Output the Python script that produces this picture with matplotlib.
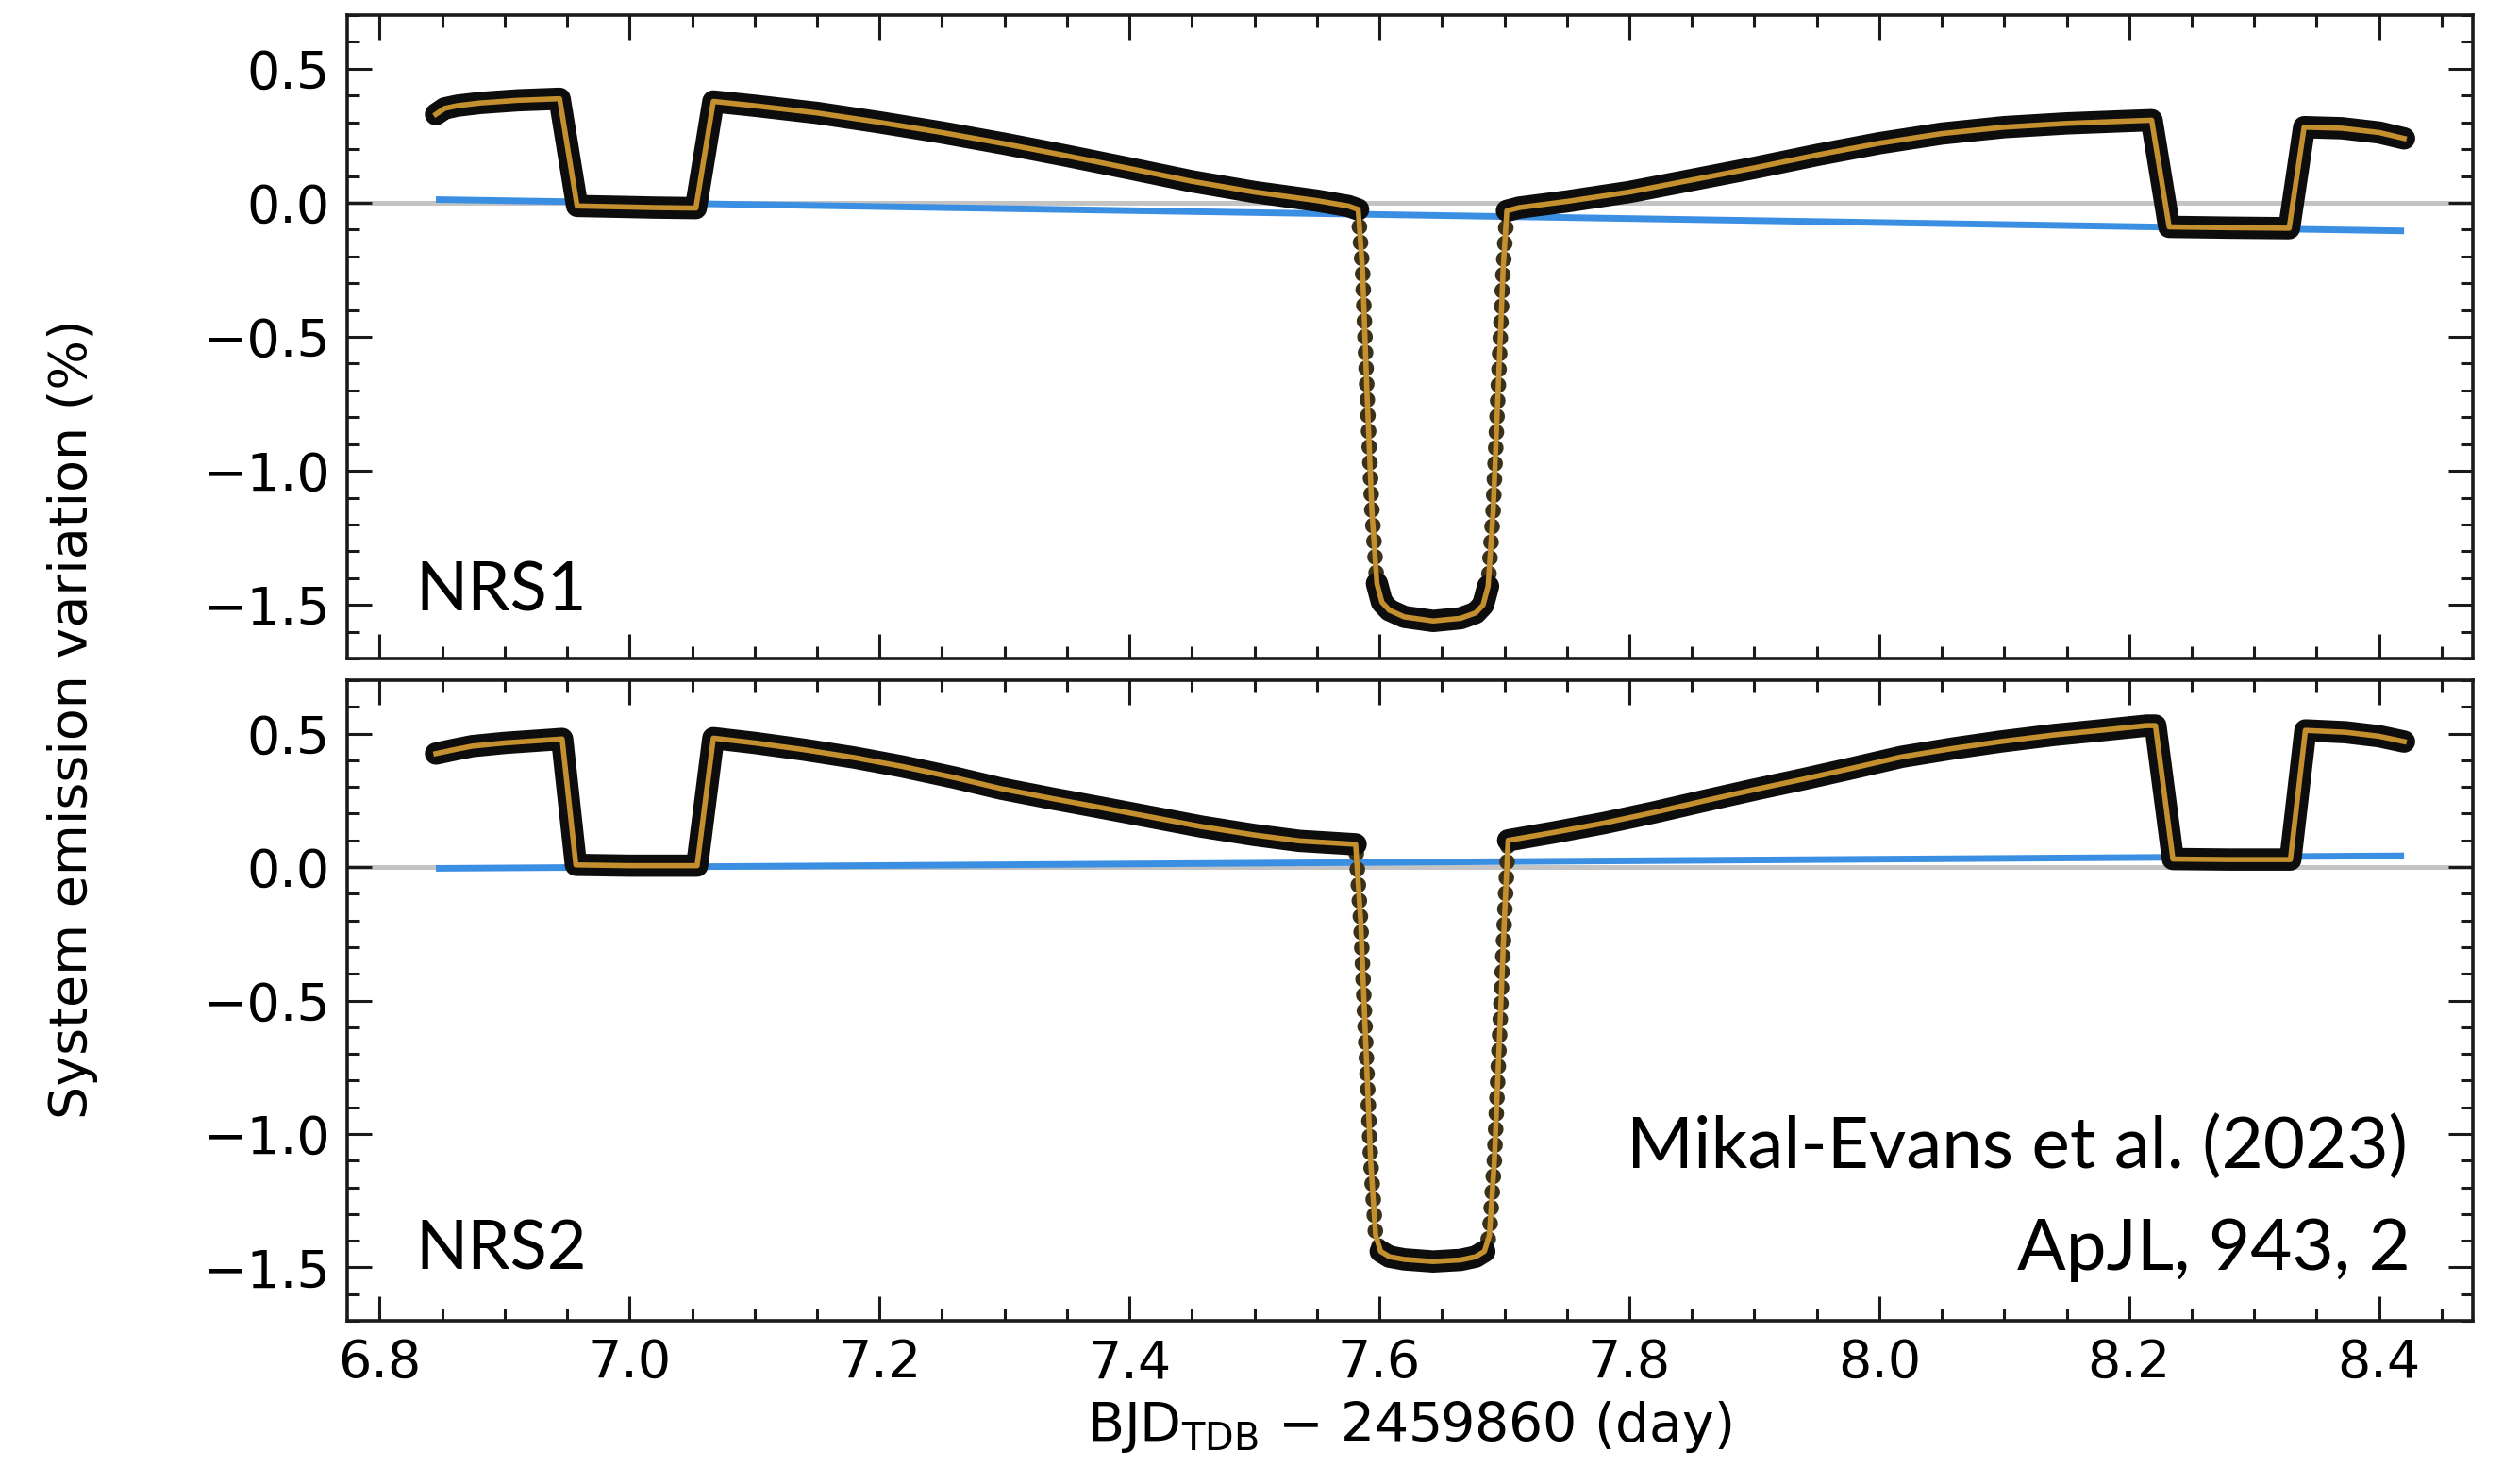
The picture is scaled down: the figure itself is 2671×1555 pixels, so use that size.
'''NIRSpec NRS1 / NRS2 phase curve of the system, redrawn after
Mikal-Evans et al. (2023), ApJL 943, 2.

Values below are read off the published figure by eye.
'''

import numpy as np
import matplotlib
matplotlib.use('Agg')
import matplotlib.pyplot as plt
from matplotlib.ticker import MultipleLocator

# NRS1: best-fit light curve (time in BJD_TDB - 2459860, flux in %)
nrs1_time = [6.845, 6.852, 6.862, 6.88, 6.91, 6.944, 6.958, 6.99, 7.02, 7.053,
             7.067, 7.10, 7.15, 7.20, 7.25, 7.30, 7.35, 7.40, 7.45, 7.50,
             7.55, 7.575, 7.583, 7.5865, 7.590, 7.594, 7.598, 7.602, 7.608,
             7.620, 7.643, 7.665, 7.677, 7.683, 7.687, 7.691, 7.695, 7.699,
             7.702, 7.712, 7.75, 7.80, 7.85, 7.90, 7.95, 8.00, 8.05, 8.10,
             8.15, 8.20, 8.218, 8.232, 8.28, 8.328, 8.340, 8.37, 8.40, 8.42]
nrs1_flux = [0.330, 0.352, 0.362, 0.372, 0.382, 0.388, -0.012, -0.015, -0.018,
             -0.020, 0.378, 0.362, 0.335, 0.300, 0.262, 0.220, 0.175, 0.128,
             0.080, 0.040, 0.008, -0.012, -0.025, -0.25, -0.70, -1.15, -1.42,
             -1.49, -1.52, -1.545, -1.56, -1.55, -1.53, -1.50, -1.43, -1.15,
             -0.70, -0.25, -0.030, -0.018, 0.005, 0.040, 0.085, 0.130, 0.178,
             0.222, 0.258, 0.282, 0.296, 0.305, 0.308, -0.090, -0.093, -0.095,
             0.282, 0.278, 0.262, 0.240]
# NRS1: linear systematics baseline
nrs1_base_time = [6.845, 8.42]
nrs1_base_flux = [0.012, -0.105]

# NRS2: best-fit light curve
nrs2_time = [6.845, 6.86, 6.874, 6.90, 6.937, 6.946, 6.957, 7.00, 7.054, 7.067,
             7.10, 7.139, 7.18, 7.218, 7.26, 7.297, 7.34, 7.377, 7.42, 7.457,
             7.50, 7.536, 7.581, 7.585, 7.589, 7.593, 7.597, 7.601, 7.608,
             7.620, 7.643, 7.665, 7.677, 7.684, 7.688, 7.692, 7.696, 7.700,
             7.703, 7.74, 7.78, 7.82, 7.86, 7.90, 7.939, 7.98, 8.018, 8.06,
             8.097, 8.14, 8.177, 8.214, 8.221, 8.235, 8.28, 8.329, 8.341,
             8.373, 8.40, 8.42]
nrs2_flux = [0.425, 0.440, 0.453, 0.465, 0.477, 0.480, 0.008, 0.005, 0.005,
             0.483, 0.465, 0.440, 0.410, 0.377, 0.335, 0.294, 0.255, 0.223,
             0.185, 0.152, 0.120, 0.098, 0.085, -0.20, -0.65, -1.10, -1.38,
             -1.44, -1.46, -1.47, -1.478, -1.472, -1.46, -1.44, -1.38, -1.10,
             -0.65, -0.20, 0.100, 0.130, 0.165, 0.205, 0.248, 0.290, 0.329,
             0.372, 0.413, 0.445, 0.470, 0.495, 0.512, 0.530, 0.530, 0.030,
             0.028, 0.028, 0.512, 0.505, 0.490, 0.470]
nrs2_base_time = [6.845, 8.42]
nrs2_base_flux = [-0.005, 0.042]

detectors = ['NRS1', 'NRS2']
citation = ['Mikal-Evans et al. (2023)', 'ApJL, 943, 2']

X_LIM = (6.774, 8.475)
Y_LIM = (-1.70, 0.70)
X_TICKS = [6.8, 7.0, 7.2, 7.4, 7.6, 7.8, 8.0, 8.2, 8.4]
Y_TICKS = [-1.5, -1.0, -0.5, 0.0, 0.5]

FIG_W, FIG_H = 2671, 1555
TICK_SIZE = 40
NOTE_FONT = ['Lato', 'DejaVu Sans']


def style_axis(ax, show_xlabels):
    '''Inward ticks on all four sides.'''
    ax.set_xlim(*X_LIM)
    ax.set_ylim(*Y_LIM)
    ax.set_xticks(X_TICKS)
    ax.set_yticks(Y_TICKS)
    ax.xaxis.set_minor_locator(MultipleLocator(0.05))
    ax.yaxis.set_minor_locator(MultipleLocator(0.1))
    ax.tick_params(which='both', direction='in', top=True, right=True,
                   width=2.2, color='#1a1a1a', labelsize=TICK_SIZE)
    ax.tick_params(which='major', length=19)
    ax.tick_params(which='minor', length=9.5)
    ax.tick_params(axis='y', pad=13)
    ax.tick_params(axis='x', pad=13, labelbottom=show_xlabels)
    for spine in ax.spines.values():
        spine.set_linewidth(2.6)
        spine.set_color('#1a1a1a')


def draw_panel(ax, time, flux, base_time, base_flux):
    ax.axhline(0, color='#c4c4c4', lw=3.6, zorder=1)
    ax.plot(base_time, base_flux, color='#3a8fe3', lw=5, zorder=2,
            solid_capstyle='butt')

    # transit walls are sparsely sampled: individual points show there
    ax.plot(time, flux, color='#3b3119', lw=12, zorder=3,
            linestyle=(0, (0.001, 1.0)), dash_capstyle='round')
    # elsewhere the data scatter forms a dense dark band under the model
    flux_arr = np.asarray(flux, dtype=float)
    band = np.where((flux_arr < -0.1) & (flux_arr > -1.4), np.nan, flux_arr)
    ax.plot(time, band, color='#0d0d0d', lw=17, zorder=3.5,
            solid_joinstyle='round', solid_capstyle='round')
    ax.plot(time, flux, color='#c4902f', lw=4.0, zorder=4,
            solid_joinstyle='round')


def main():
    fig = plt.figure(figsize=(FIG_W / 100, FIG_H / 100), dpi=100)
    plt.rcParams['mathtext.default'] = 'regular'

    left = 368 / FIG_W
    width = (2621 - 368) / FIG_W
    ax_top = fig.add_axes([left, 1 - 698 / FIG_H, width, (698 - 16) / FIG_H])
    ax_bot = fig.add_axes([left, 1 - 1400 / FIG_H, width, (1400 - 721) / FIG_H])

    draw_panel(ax_top, nrs1_time, nrs1_flux, nrs1_base_time, nrs1_base_flux)
    draw_panel(ax_bot, nrs2_time, nrs2_flux, nrs2_base_time, nrs2_base_flux)
    style_axis(ax_top, False)
    style_axis(ax_bot, True)

    fig.text(440 / FIG_W, 1 - 647 / FIG_H, detectors[0], family=NOTE_FONT,
             fontsize=52, va='baseline', ha='left')
    fig.text(440 / FIG_W, 1 - 1346 / FIG_H, detectors[1], family=NOTE_FONT,
             fontsize=52, va='baseline', ha='left')
    fig.text(2552 / FIG_W, 1 - 1238 / FIG_H, citation[0], family=NOTE_FONT,
             fontsize=55, va='baseline', ha='right')
    fig.text(2555 / FIG_W, 1 - 1346 / FIG_H, citation[1], family=NOTE_FONT,
             fontsize=55, va='baseline', ha='right')

    fig.text(77 / FIG_W, 1 - 762 / FIG_H, 'System emission variation (%)',
             rotation=90, ha='center', va='center', fontsize=40)
    fig.text(1494 / FIG_W, 1 - 1513 / FIG_H,
             'BJD$_{TDB}$ \u2212 2459860 (day)',
             ha='center', va='center', fontsize=41)

    fig.savefig('out.png', dpi=100)
    plt.close(fig)


if __name__ == '__main__':
    main()
